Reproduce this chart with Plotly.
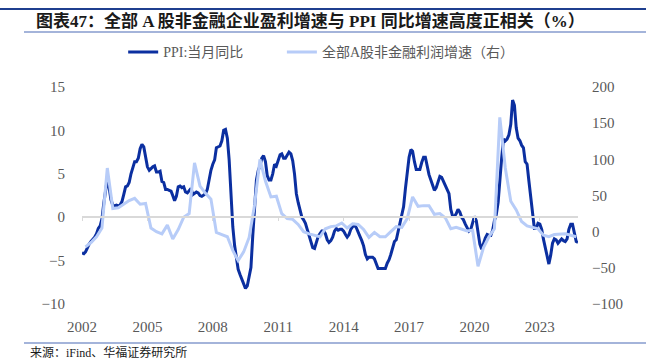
import pandas as pd
import plotly.graph_objects as go

# PPI month-on-year (%), monthly, left axis
ppi_2002 = [-4.1, -4.2, -4.0, -3.5, -3.1, -2.8, -2.6, -2.3, -1.9, -1.3, -1.0, -0.2]
ppi_2003 = [1.6, 3.3, 4.4, 3.4, 2.0, 1.4, 1.3, 1.4, 1.3, 1.4, 1.8, 2.6]
ppi_2004 = [3.5, 3.6, 4.0, 5.0, 5.7, 6.4, 6.4, 6.8, 7.9, 8.4, 8.1, 7.1]
ppi_2005 = [5.8, 5.4, 5.6, 5.8, 5.9, 5.2, 5.2, 5.3, 4.1, 4.0, 3.2, 3.2]
ppi_2006 = [3.1, 3.0, 2.5, 1.9, 2.4, 3.5, 3.6, 3.4, 3.5, 2.9, 2.8, 3.1]
ppi_2007 = [3.3, 2.6, 2.7, 2.9, 2.8, 2.5, 2.4, 2.6, 2.7, 3.2, 4.6, 5.4]
ppi_2008 = [6.1, 6.6, 8.0, 8.1, 8.2, 8.8, 10.0, 10.1, 9.1, 6.6, 2.0, -1.1]
ppi_2009 = [-3.3, -4.5, -6.0, -6.6, -7.2, -7.8, -8.2, -7.9, -7.0, -5.8, -2.1, 1.7]
ppi_2010 = [4.3, 5.4, 5.9, 6.8, 7.1, 6.4, 4.8, 4.3, 4.3, 5.0, 6.1, 5.9]
ppi_2011 = [6.6, 7.2, 7.3, 6.8, 6.8, 7.1, 7.5, 7.3, 6.5, 5.0, 2.7, 1.7]
ppi_2012 = [0.7, 0.0, -0.3, -0.7, -1.4, -2.1, -2.9, -3.5, -3.6, -2.8, -2.2, -1.9]
ppi_2013 = [-1.6, -1.6, -1.9, -2.6, -2.9, -2.7, -2.3, -1.6, -1.3, -1.5, -1.4, -1.4]
ppi_2014 = [-1.6, -2.0, -2.3, -2.0, -1.4, -1.1, -0.9, -1.2, -1.8, -2.2, -2.7, -3.3]
ppi_2015 = [-4.3, -4.8, -4.6, -4.6, -4.6, -4.8, -5.4, -5.9, -5.9, -5.9, -5.9, -5.9]
ppi_2016 = [-5.3, -4.9, -4.3, -3.4, -2.8, -2.6, -1.7, -0.8, 0.1, 1.2, 3.3, 5.5]
ppi_2017 = [6.9, 7.8, 7.6, 6.4, 5.5, 5.5, 5.5, 6.3, 6.9, 6.9, 5.8, 4.9]
ppi_2018 = [4.3, 3.7, 3.1, 3.4, 4.1, 4.7, 4.6, 4.1, 3.6, 3.3, 2.7, 0.9]
ppi_2019 = [0.1, 0.1, 0.4, 0.9, 0.6, 0.0, -0.3, -0.8, -1.2, -1.6, -1.4, -0.5]
ppi_2020 = [0.1, -0.4, -1.5, -3.1, -3.7, -3.0, -2.4, -2.0, -2.1, -2.1, -1.5, -0.4]
ppi_2021 = [0.3, 1.7, 4.4, 6.8, 9.0, 8.8, 9.0, 9.5, 10.7, 13.5, 12.9, 10.3]
ppi_2022 = [9.1, 8.8, 8.3, 8.0, 6.4, 6.1, 4.2, 2.3, 0.9, -1.3, -1.3, -0.7]
ppi_2023 = [-0.8, -1.4, -2.5, -3.6, -4.6, -5.4, -4.4, -3.0, -2.5, -2.6, -3.0, -2.7]
ppi_2024 = [-2.5, -2.7, -2.8, -2.5, -1.4, -0.8, -0.8, -1.8, -2.8, -2.9]

# A-share non-financial profit growth (%), quarterly, right axis
profit_2002_2007 = [-21, -15, -7, 5, 88, 32, 33, 38, 43, 46, 38, 39,
                    5, 0, -3, 9, -10, 3, 20, 25, 95, 63, 53, 45]
profit_2008_2013 = [-1, -4, -7, -26, -40, -28, -8, 37, 100, 70, 48, 49,
                    25, 18, 17, 10, 0, -3, -5, -7, 4, 7, 8, 12]
profit_2014_2019 = [5, 11, 10, 3, -8, -1, -7, -7, 0, 7, 6, 18,
                    48, 35, 36, 36, 24, 25, 19, 4, 6, 3, 1, 2]
profit_2020_2024 = [-48, -22, -7, 4, 158, 88, 42, 30, 14, 8, 6, 4,
                    -5, -7, -4, -3, -3, -5, -7]

year_ticks = ["2002", "2005", "2008", "2011", "2014", "2017", "2020", "2023"]
left_ticks = [-10, -5, 0, 5, 10, 15]
right_ticks = [-100, -50, 0, 50, 100, 150, 200]

ppi = (ppi_2002 + ppi_2003 + ppi_2004 + ppi_2005 + ppi_2006 + ppi_2007 + ppi_2008 +
       ppi_2009 + ppi_2010 + ppi_2011 + ppi_2012 + ppi_2013 + ppi_2014 + ppi_2015 +
       ppi_2016 + ppi_2017 + ppi_2018 + ppi_2019 + ppi_2020 + ppi_2021 + ppi_2022 +
       ppi_2023 + ppi_2024)
profit = profit_2002_2007 + profit_2008_2013 + profit_2014_2019 + profit_2020_2024

ppi_dates = pd.date_range("2002-01-01", periods=len(ppi), freq="MS")
profit_dates = pd.date_range("2002-03-01", periods=len(profit), freq="3MS")

DARK = "#0B2FA0"
LIGHT = "#B7CCF8"
GRAY = "#595959"
SERIF = "Liberation Serif, Noto Sans CJK SC, serif"

fig = go.Figure()
fig.add_trace(go.Scatter(x=ppi_dates, y=ppi, name="PPI:当月同比", mode="lines",
                         line=dict(color=DARK, width=3), xaxis="x", yaxis="y",
                         legend="legend"))
fig.add_trace(go.Scatter(x=profit_dates, y=profit, name="全部A股非金融利润增速（右）",
                         mode="lines", line=dict(color=LIGHT, width=3),
                         xaxis="x2", yaxis="y2", legend="legend2"))

legend_font = dict(family=SERIF, size=14, color=GRAY)
xr = ["2002-01-01", "2024-10-01"]
fig.update_layout(
    width=646, height=362,
    margin=dict(l=82, r=68, t=87, b=58),
    paper_bgcolor="white", plot_bgcolor="white",
    showlegend=True,
    legend=dict(orientation="h", x=0.083, y=1.16, xanchor="left", yanchor="middle",
                font=legend_font, itemwidth=30, bgcolor="rgba(0,0,0,0)"),
    legend2=dict(orientation="h", x=0.403, y=1.16, xanchor="left", yanchor="middle",
                 font=legend_font, itemwidth=30, bgcolor="rgba(0,0,0,0)"),
    xaxis=dict(type="date", range=xr, anchor="free", position=0.4,
               showline=True, linecolor="#D9D9D9", linewidth=1.5,
               ticks="outside", ticklen=3, tickcolor="#D9D9D9", tickwidth=1,
               tick0="2002-01-01", dtick="M36", showticklabels=False,
               showgrid=False, zeroline=False),
    xaxis2=dict(type="date", range=xr, overlaying="x", matches="x", anchor="y",
                side="bottom", showline=False, ticks="",
                tickvals=[y + "-01-01" for y in year_ticks], ticktext=year_ticks,
                tickfont=dict(family=SERIF, size=15, color=GRAY),
                ticklabelstandoff=12, showgrid=False, zeroline=False),
    yaxis=dict(range=[-10, 15], tickvals=left_ticks, showgrid=False, zeroline=False,
               showline=False, ticks="", tickfont=dict(family=SERIF, size=15, color=GRAY),
               ticklabelstandoff=16),
    yaxis2=dict(range=[-100, 200], tickvals=right_ticks, overlaying="y", side="right",
                anchor="x2", showgrid=False, zeroline=False, showline=False, ticks="",
                tickfont=dict(family=SERIF, size=15, color=GRAY), ticklabelstandoff=13),
)

# Header decorations (paper coords relative to plot area 82..578 x, 87..304 y)
def px_x(px):
    return (px - 82) / 496.0

def px_y(py):
    return (304 - py) / 217.0

fig.add_shape(type="line", xref="paper", yref="paper", x0=px_x(0), x1=px_x(646),
              y0=px_y(9), y1=px_y(9), line=dict(color="#1F3F8F", width=2))
fig.add_shape(type="line", xref="paper", yref="paper", x0=px_x(24), x1=px_x(646),
              y0=px_y(32), y1=px_y(32), line=dict(color="#4A6BB5", width=1.2))
fig.add_shape(type="line", xref="paper", yref="paper", x0=px_x(24), x1=px_x(646),
              y0=px_y(343), y1=px_y(343), line=dict(color="#4A6BB5", width=1.2))

fig.add_annotation(xref="paper", yref="paper", x=px_x(34), y=px_y(21),
                   xanchor="left", yanchor="middle", showarrow=False,
                   text="<b>图表47：全部 A 股非金融企业盈利增速与 PPI 同比增速高度正相关（%）</b>",
                   font=dict(family=SERIF, size=17, color="#1A1A1A"))
fig.add_annotation(xref="paper", yref="paper", x=px_x(28), y=px_y(352),
                   xanchor="left", yanchor="middle", showarrow=False,
                   text="来源：iFind、华福证券研究所",
                   font=dict(family=SERIF, size=12, color="#1A1A1A"))

fig.write_html("out.html", config={"displayModeBar": False},
               post_script="document.body.style.margin='0px';")
